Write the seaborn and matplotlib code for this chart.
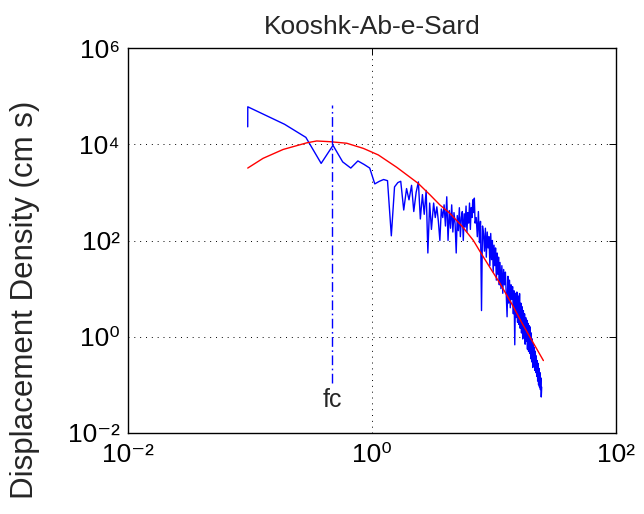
import numpy as np
import pandas as pd
import matplotlib
matplotlib.use("Agg")
import matplotlib.pyplot as plt
import seaborn as sns
from matplotlib.ticker import NullLocator, FixedLocator, FixedFormatter

# ---------------- data ----------------
title = "Kooshk-Ab-e-Sard"
ylabel = "Displacement Density (cm s)"

# observed spectrum, low-frequency part
blue_freq_low = [0.0958, 0.0959, 0.192, 0.287, 0.383, 0.479, 0.575, 0.670, 0.766, 0.862,
                 0.958, 1.054, 1.15, 1.245, 1.34, 1.44, 1.53, 1.63, 1.72, 1.82,
                 1.92, 2.01, 2.11, 2.20, 2.30, 2.40, 2.49, 2.59, 2.68, 2.78,
                 2.87, 2.97, 3.07]
blue_val_low = [2.3e4, 6.0e4, 2.6e4, 1.39e4, 4.0e3, 9.5e3, 4.3e3, 3.2e3, 4.5e3, 3.8e3,
                3.2e3, 1.5e3, 1.7e3, 1.85e3, 1.75e3, 125, 1.3e3, 1.6e3, 1.7e3, 430,
                1.2e3, 700, 1.4e3, 400, 1.0e3, 1.65e3, 280, 900, 350, 1.1e3,
                55, 600, 170]

# observed spectrum, 3.2 - 7.0 Hz
blue_freq_mid = [3.2, 3.3, 3.4, 3.5, 3.6, 3.7, 3.8, 3.9, 4.0, 4.1,
                 4.2, 4.3, 4.4, 4.5, 4.6, 4.7, 4.8, 4.9, 5.0, 5.1,
                 5.2, 5.3, 5.4, 5.5, 5.6, 5.7, 5.8, 5.9, 6.0, 6.1,
                 6.2, 6.3, 6.4, 6.5, 6.6, 6.7, 6.8, 6.9, 7.0]
blue_val_mid = [600, 300, 500, 250, 100, 450, 300, 550, 200, 810,
                100, 420, 180, 550, 150, 380, 220, 55, 330, 160,
                480, 120, 300, 400, 100, 360, 190, 520, 150, 380,
                230, 600, 170, 480, 300, 700, 380, 760, 230]

# observed spectrum, 7.15 - 11.05 Hz
blue_freq_hi = [7.15, 7.3, 7.45, 7.6, 7.75, 7.9, 8.05, 8.2, 8.35, 8.5,
                8.65, 8.8, 8.95, 9.1, 9.25, 9.4, 9.55, 9.7, 9.85, 10.0,
                10.15, 10.3, 10.45, 10.6, 10.75, 10.9, 11.05]
blue_val_hi = [300, 120, 400, 90, 250, 3.5, 200, 140, 60, 180,
               45, 150, 70, 120, 30, 140, 40, 100, 22, 80,
               30, 70, 15, 55, 20, 45, 12]

# observed spectrum, 11.2 - 24.6 Hz
blue_freq_top = [11.2, 11.4, 11.6, 11.8, 12.0, 12.2, 12.4, 12.6, 12.8, 13.0,
                 13.2, 13.4, 13.6, 13.8, 14.0, 14.2, 14.4, 14.6, 14.8, 15.0,
                 15.2, 15.4, 15.6, 15.8, 16.0, 16.2, 16.4, 16.6, 16.8, 17.0,
                 17.2, 17.4, 17.6, 17.8, 18.0, 18.2, 18.4, 18.6, 18.8, 19.0,
                 19.2, 19.4, 19.6, 19.8, 20.0, 20.2, 20.4, 20.6, 20.8, 21.0,
                 21.2, 21.4, 21.6, 21.8, 22.0, 22.2, 22.4, 22.6, 22.8, 23.0,
                 23.2, 23.4, 23.6, 23.8, 24.0, 24.2, 24.4, 24.6]
blue_val_top = [35, 10, 30, 8, 25, 12, 22, 7, 2.6, 18,
                5, 15, 4, 12, 6, 11, 3, 9, 0.68, 8,
                2.5, 8.5, 2, 7, 1.8, 7.9, 1.5, 5, 1.2, 4.2,
                0.9, 3.5, 1.0, 3, 0.7, 2.5, 0.8, 2.2, 0.55, 1.9,
                0.5, 1.7, 0.45, 1.6, 0.35, 1.2, 0.3, 0.9, 0.23, 0.7,
                0.28, 0.6, 0.2, 0.5, 0.18, 0.4, 0.15, 0.32, 0.12, 0.28,
                0.1, 0.22, 0.09, 0.18, 0.08, 0.14, 0.056, 0.09]

# fitted source model (red)
model_freq = [0.0958, 0.128, 0.187, 0.292, 0.352, 0.453, 0.62, 0.85, 1.126, 1.6,
              2.39, 3.0, 3.61, 4.36, 5.5, 6.78, 7.68, 9.3, 11.2, 14.0,
              17.0, 20.6, 25.4]
model_val = [3200, 5100, 7800, 10700, 11700, 11300, 10500, 8200, 6000, 3300,
             1540, 880, 545, 365, 195, 100, 59, 27, 12.8, 4.8,
             1.9, 0.81, 0.32]

# corner frequency marker
fc_freq = [0.473, 0.473]
fc_range = [0.108, 6.5e4]
fc_label = "fc"
fc_label_y = 0.048

x_ticks = [1e-2, 1e0, 1e2]
x_ticklabels = ["10\u207b\u00b2", "10\u2070", "10\u00b2"]
y_ticks = [1e-2, 1e0, 1e2, 1e4, 1e6]
y_ticklabels = ["10\u207b\u00b2", "10\u2070", "10\u00b2", "10\u2074", "10\u2076"]

# ---------------- plotting ----------------
sns.set_style("white")
plt.rcParams["font.family"] = ["Liberation Sans", "DejaVu Sans"]

assert len(blue_freq_low) == len(blue_val_low)
assert len(blue_freq_mid) == len(blue_val_mid)
assert len(blue_freq_hi) == len(blue_val_hi)
assert len(blue_freq_top) == len(blue_val_top)

blue = pd.DataFrame({
    "f": blue_freq_low + blue_freq_mid + blue_freq_hi + blue_freq_top,
    "a": blue_val_low + blue_val_mid + blue_val_hi + blue_val_top,
})
model = pd.DataFrame({"f": model_freq, "a": model_val})

fig = plt.figure(figsize=(6.44, 5.14), dpi=100)
ax = fig.add_axes([128 / 644, 1 - 433 / 514, 488 / 644, 385 / 514])
ax.set_xscale("log")
ax.set_yscale("log")

sns.lineplot(data=blue, x="f", y="a", ax=ax, color="#0000FF", lw=1.0,
             estimator=None, sort=False)
sns.lineplot(data=model, x="f", y="a", ax=ax, color="#FF0000", lw=1.0,
             estimator=None, sort=False)
sns.lineplot(x=fc_freq, y=fc_range, ax=ax, color="#0000FF", lw=1.0,
             linestyle=(0, (7, 2.5, 1.2, 2.5)), estimator=None, sort=False)

ax.text(fc_freq[0], fc_label_y, fc_label, ha="center", va="center", fontsize=18)

ax.set_xlim(1e-2, 1e2)
ax.set_ylim(1e-2, 1e6)
ax.xaxis.set_major_locator(FixedLocator(x_ticks))
ax.xaxis.set_major_formatter(FixedFormatter(x_ticklabels))
ax.yaxis.set_major_locator(FixedLocator(y_ticks))
ax.yaxis.set_major_formatter(FixedFormatter(y_ticklabels))
ax.xaxis.set_minor_locator(NullLocator())
ax.yaxis.set_minor_locator(NullLocator())

ax.grid(True, which="major", color="k", linestyle=(0, (1, 5)), lw=0.7)
ax.tick_params(axis="both", direction="in", length=5, width=0.7,
               top=True, right=True, labelsize=19, colors="k")
ax.tick_params(axis="x", pad=7)
ax.tick_params(axis="y", pad=6)
for s in ax.spines.values():
    s.set_color("k")
    s.set_linewidth(1.0)

ax.set_xlabel("")
ax.set_title(title, fontsize=19, pad=10)
ax.set_ylabel(ylabel, fontsize=22.5)
ax.yaxis.set_label_coords(-0.18, 0.345)

fig.savefig("out.png", dpi=100, facecolor="white")
